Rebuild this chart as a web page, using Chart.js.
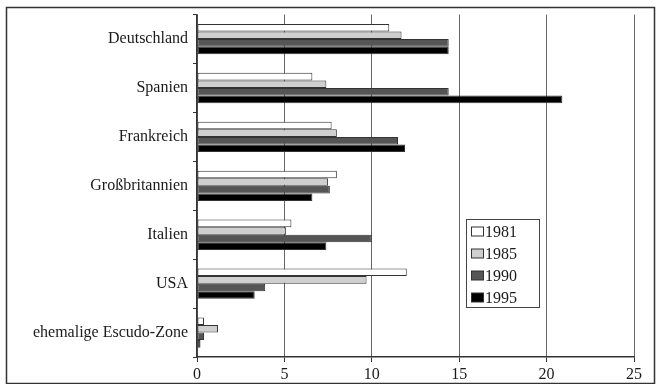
<!DOCTYPE html>
<html>
<head>
<meta charset="utf-8">
<script src="https://cdn.jsdelivr.net/npm/chart.js@4/dist/chart.umd.min.js"></script>
<style>
  html, body { margin: 0; padding: 0; background: #fff; }
  #wrap { width: 660px; height: 384px; }
</style>
</head>
<body>
<div id="wrap"><canvas id="barChart" width="660" height="384"></canvas></div>
<script>
// Chart data
var countries = ['Deutschland', 'Spanien', 'Frankreich', 'Großbritannien', 'Italien', 'USA', 'ehemalige Escudo-Zone'];
var years = ['1981', '1985', '1990', '1995'];
var values1981 = [11.0, 6.6, 7.7, 8.0, 5.4, 12.0, 0.4];
var values1985 = [11.7, 7.4, 8.0, 7.5, 5.1, 9.7, 1.2];
var values1990 = [14.4, 14.4, 11.5, 7.6, 10.0, 3.9, 0.4];
var values1995 = [14.4, 20.9, 11.9, 6.6, 7.4, 3.3, 0.2];
var xTicks = [0, 5, 10, 15, 20, 25];

var fills = ['#ffffff', '#cfcfcf', '#555555', '#000000'];
var series = [values1981, values1985, values1990, values1995];

var datasets = [];
for (var i = 0; i < years.length; i++) {
    datasets.push({
        label: years[i],
        data: series[i],
        backgroundColor: fills[i],
        borderColor: '#333333',
        borderWidth: 1,
        borderSkipped: false,
        barPercentage: 1.0,
        categoryPercentage: 0.62
    });
}

// Outer frame + legend box inside the plot
var framePlugin = {
    id: 'frameAndLegend',
    afterDraw: function(chart) {
        var ctx = chart.ctx;
        ctx.save();
        ctx.strokeStyle = '#333';
        ctx.lineWidth = 1.5;
        ctx.strokeRect(6.5, 7.5, 648, 376);

        // legend box
        var lx = 466.5, ly = 219.5, lw = 73, lh = 88;
        ctx.fillStyle = '#fff';
        ctx.fillRect(lx, ly, lw, lh);
        ctx.lineWidth = 1;
        ctx.strokeStyle = '#444';
        ctx.strokeRect(lx, ly, lw, lh);
        ctx.font = '16px "Liberation Serif", "DejaVu Serif", serif';
        ctx.textBaseline = 'middle';
        chart.data.datasets.forEach(function(ds, k) {
            var cy = 232 + k * 22;
            ctx.fillStyle = ds.backgroundColor;
            ctx.fillRect(471.5, cy - 5, 12, 9);
            ctx.strokeStyle = '#333';
            ctx.strokeRect(471.5, cy - 5, 12, 9);
            ctx.fillStyle = '#1a1a1a';
            ctx.fillText(ds.label, 485, cy + 1);
        });
        ctx.restore();
    }
};

var ctx = document.getElementById('barChart').getContext('2d');
var barChart = new Chart(ctx, {
    type: 'bar',
    data: {
        labels: countries,
        datasets: datasets
    },
    options: {
        indexAxis: 'y',
        responsive: false,
        animation: false,
        layout: {
            padding: { left: 0, top: 14, right: 26, bottom: 0 }
        },
        plugins: {
            legend: { display: false },
            tooltip: { enabled: false }
        },
        scales: {
            x: {
                min: 0,
                max: 25,
                afterBuildTicks: function(scale) {
                    scale.ticks = xTicks.map(function(v) { return { value: v }; });
                },
                afterFit: function(scale) {
                    scale.height = 27;
                },
                ticks: {
                    color: '#1a1a1a',
                    padding: 3,
                    font: { family: '"Liberation Serif", serif', size: 16 }
                },
                grid: {
                    color: '#666',
                    lineWidth: 1,
                    tickLength: 5,
                    tickColor: '#333'
                },
                border: { display: true, color: '#333', width: 1.5 }
            },
            y: {
                afterFit: function(scale) {
                    scale.width = 197;
                },
                ticks: {
                    color: '#1a1a1a',
                    padding: 5,
                    font: { family: '"Liberation Serif", serif', size: 16 }
                },
                grid: {
                    offset: true,
                    drawOnChartArea: false,
                    tickLength: 4,
                    color: '#333'
                },
                border: { display: true, color: '#333', width: 1.5 }
            }
        }
    },
    plugins: [framePlugin]
});
</script>
</body>
</html>
